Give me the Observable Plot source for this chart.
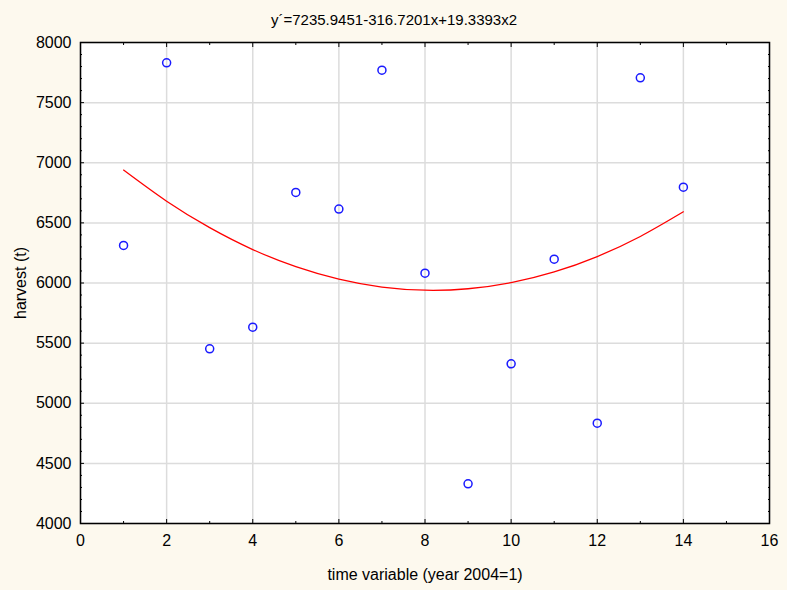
<!DOCTYPE html>
<html>
<head>
<meta charset="utf-8">
<script src="https://cdn.jsdelivr.net/npm/d3@7"></script>
<script src="https://cdn.jsdelivr.net/npm/@observablehq/plot@0.6"></script>
<style>
  html, body { margin: 0; padding: 0; background: #fdf9ee; }
  #chart { width: 787px; height: 590px; }
</style>
</head>
<body>
<div id="chart"></div>
<script>
const title = "y´=7235.9451-316.7201x+19.3393x2";
const xLabel = "time variable (year 2004=1)";
const yLabel = "harvest (t)";

const years = [1, 2, 3, 4, 5, 6, 7, 8, 9, 10, 11, 12, 13, 14];
const harvest = [6312, 7831, 5453, 5633, 6753, 6615, 7770, 6082, 4330, 5328, 6198, 4834, 7706, 6797];

const fitX = [1, 2, 3, 4, 5, 6, 7, 8, 9, 10, 11, 12, 13, 14];
const fitY = [6939, 6680, 6460, 6278, 6136, 6032, 5966, 5940, 5952, 6003, 6092, 6220, 6387, 6592];

const xTicks = [0, 2, 4, 6, 8, 10, 12, 14, 16];
const xMinor = [1, 3, 5, 7, 9, 11, 13, 15];
const yTicks = [4000, 4500, 5000, 5500, 6000, 6500, 7000, 7500, 8000];
const yMinor = [4100, 4200, 4300, 4400, 4600, 4700, 4800, 4900, 5100, 5200, 5300, 5400,
  5600, 5700, 5800, 5900, 6100, 6200, 6300, 6400, 6600, 6700, 6800, 6900,
  7100, 7200, 7300, 7400, 7600, 7700, 7800, 7900];

const points = years.map((x, i) => ({x, y: harvest[i]}));
const fit = fitX.map((x, i) => ({x, y: fitY[i]}));

const empty = () => "";
const plain = d => String(d);

const chart = Plot.plot({
  width: 787,
  height: 590,
  marginTop: 42,
  marginLeft: 80,
  marginRight: 18,
  marginBottom: 67,
  style: {fontFamily: "'Liberation Sans', Arial, sans-serif", fontSize: "16px", color: "black", background: "transparent", overflow: "visible"},
  x: {domain: [0, 16]},
  y: {domain: [4000, 8000]},
  marks: [
    Plot.frame({fill: "white", stroke: null}),
    Plot.gridX(xTicks, {stroke: "#dcdcdc", strokeOpacity: 1, strokeWidth: 1.5}),
    Plot.gridY(yTicks, {stroke: "#dcdcdc", strokeOpacity: 1, strokeWidth: 1.5}),
    // labels
    Plot.axisX(xTicks, {anchor: "bottom", tickSize: 0, tickPadding: 11, tickFormat: plain, label: xLabel, labelAnchor: "center", labelArrow: "none", labelOffset: 56, fontSize: 16}),
    Plot.axisY(yTicks, {anchor: "left", tickSize: 0, tickPadding: 9, tickFormat: plain, label: yLabel, labelAnchor: "center", labelArrow: "none", labelOffset: 66, fontSize: 16}),
    // inward ticks
    Plot.axisX(xTicks, {anchor: "bottom", tickSize: -4, tickFormat: empty, label: null}),
    Plot.axisX(xMinor, {anchor: "bottom", tickSize: -2, tickFormat: empty, label: null}),
    Plot.axisX(xTicks, {anchor: "top", tickSize: -4, tickFormat: empty, label: null}),
    Plot.axisX(xMinor, {anchor: "top", tickSize: -2, tickFormat: empty, label: null}),
    Plot.axisY(yTicks, {anchor: "left", tickSize: -4, tickFormat: empty, label: null}),
    Plot.axisY(yMinor, {anchor: "left", tickSize: -2, tickFormat: empty, label: null}),
    Plot.axisY(yTicks, {anchor: "right", tickSize: -4, tickFormat: empty, label: null}),
    Plot.axisY(yMinor, {anchor: "right", tickSize: -2, tickFormat: empty, label: null}),
    Plot.line(fit, {x: "x", y: "y", stroke: "#ff0000", strokeWidth: 1.3, curve: "natural"}),
    Plot.dot(points, {x: "x", y: "y", r: 4, stroke: "#1a1aff", strokeWidth: 1.5, fill: "none"}),
    Plot.frame({stroke: "black", strokeWidth: 1.5}),
    Plot.text([title], {frameAnchor: "top", dx: -31, dy: -22, lineAnchor: "middle", fontSize: 15, fill: "black"})
  ]
});
document.getElementById("chart").appendChild(chart);
</script>
</body>
</html>
